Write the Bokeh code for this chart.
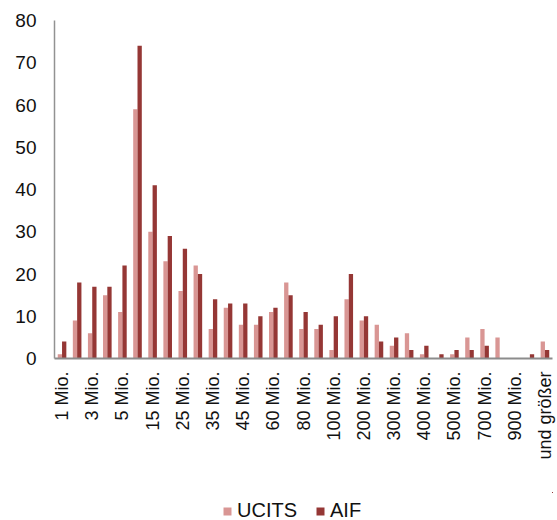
import math
from bokeh.plotting import figure
from bokeh.layouts import column
from bokeh.models import ColumnDataSource, Range1d, FixedTicker, Legend, LegendItem
from bokeh.transform import dodge
from bokeh.embed import file_html
from bokeh.resources import INLINE

categories = ["1 Mio.", "2 Mio.", "3 Mio.", "4 Mio.", "5 Mio.", "10 Mio.", "15 Mio.", "20 Mio.",
              "25 Mio.", "30 Mio.", "35 Mio.", "40 Mio.", "45 Mio.", "50 Mio.", "60 Mio.", "70 Mio.",
              "80 Mio.", "90 Mio.", "100 Mio.", "150 Mio.", "200 Mio.", "250 Mio.", "300 Mio.",
              "350 Mio.", "400 Mio.", "450 Mio.", "500 Mio.", "600 Mio.", "700 Mio.", "800 Mio.",
              "900 Mio.", "1000 Mio.", "und größer"]
ucits = [1, 9, 6, 15, 11, 59, 30, 23, 16, 22, 7, 12, 8, 8, 11, 18, 7, 7, 2, 14, 9, 8, 3, 6, 1, 0, 1, 5, 7, 5, 0, 0, 4]
aif = [4, 18, 17, 17, 22, 74, 41, 29, 26, 20, 14, 13, 13, 10, 12, 15, 11, 8, 10, 20, 10, 4, 5, 2, 3, 1, 2, 2, 3, 0, 0, 1, 2]
y_ticks = [0, 10, 20, 30, 40, 50, 60, 70, 80]
series_names = ["UCITS", "AIF"]

idx = list(range(len(categories)))
source = ColumnDataSource(dict(x=idx, ucits=ucits, aif=aif))

FONT = "Liberation Sans"
PINK = "#D99694"
DARK = "#953735"

p = figure(width=557, height=492, output_backend="svg", toolbar_location=None,
           x_range=Range1d(-0.5, len(categories) - 0.5), y_range=Range1d(0, 80),
           min_border_left=54, min_border_right=5, min_border_top=20, min_border_bottom=134)
p.outline_line_color = None
p.xgrid.grid_line_color = None
p.ygrid.grid_line_color = None

bw = 0.285
p.vbar(x=dodge("x", -bw / 2), top="ucits", width=bw, source=source,
       fill_color=PINK, line_color=None)
p.vbar(x=dodge("x", bw / 2), top="aif", width=bw, source=source,
       fill_color=DARK, line_color=None)

# y axis
p.yaxis.ticker = FixedTicker(ticks=y_ticks)
p.yaxis.major_tick_line_color = None
p.yaxis.minor_tick_line_color = None
p.yaxis.major_tick_out = 0
p.yaxis.major_tick_in = 0
p.yaxis.major_label_standoff = 18
p.yaxis.axis_line_color = "#929292"
p.yaxis.axis_line_width = 1.5
p.yaxis.major_label_text_font = FONT
p.yaxis.major_label_text_font_size = "19px"
p.yaxis.major_label_text_color = "#111111"

# x axis
shown = idx[::2]
p.xaxis.ticker = FixedTicker(ticks=shown)
p.xaxis.major_label_overrides = {i: categories[i] for i in shown}
p.xaxis.major_label_orientation = math.pi / 2
p.xaxis.major_tick_line_color = None
p.xaxis.minor_tick_line_color = None
p.xaxis.major_tick_out = 0
p.xaxis.major_tick_in = 0
p.xaxis.major_label_standoff = 13
p.xaxis.axis_line_color = "#8c8c8c"
p.xaxis.axis_line_width = 2
p.xaxis.major_label_text_font = FONT
p.xaxis.major_label_text_font_size = "18px"
p.xaxis.major_label_text_color = "#111111"

# legend strip (separate small figure below the chart; its bars lie outside its view)
p2 = figure(width=557, height=28, output_backend="svg", toolbar_location=None,
            x_range=Range1d(-200, -199), y_range=Range1d(-200, -199),
            min_border_left=0, min_border_right=0, min_border_top=0, min_border_bottom=0)
p2.axis.visible = False
p2.grid.visible = False
p2.outline_line_color = None
l1 = p2.vbar(x="x", top="ucits", width=bw, source=source, fill_color=PINK, line_color=None)
l2 = p2.vbar(x="x", top="aif", width=bw, source=source, fill_color=DARK, line_color=None)

legend = Legend(items=[LegendItem(label=series_names[0], renderers=[l1]),
                       LegendItem(label=series_names[1], renderers=[l2])],
                location=(168, -2), orientation="horizontal",
                padding=0, margin=0, spacing=18, label_standoff=5,
                glyph_width=10, glyph_height=10, label_height=10,
                border_line_alpha=0, background_fill_alpha=0,
                label_text_font=FONT, label_text_font_size="20px",
                label_text_color="#111111")
p2.add_layout(legend)

open("out.html", "w").write(file_html(column(p, p2, spacing=0), INLINE))
